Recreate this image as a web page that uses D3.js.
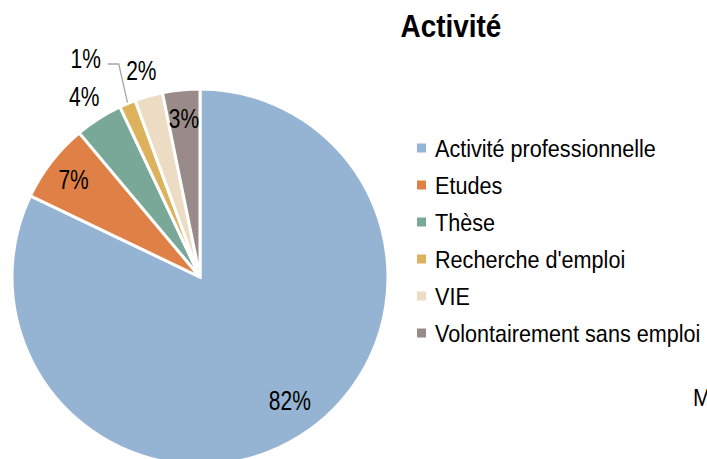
<!DOCTYPE html>
<html>
<head>
<meta charset="utf-8">
<script src="https://cdn.jsdelivr.net/npm/d3@7"></script>
<style>
  body { margin: 0; background: #fff; }
  svg { display: block; font-family: "Liberation Sans", Arial, sans-serif; }
</style>
</head>
<body>
<div id="chart"></div>
<script>
// data (share of respondents, %)
const categories = ["Activité professionnelle", "Etudes", "Thèse", "Recherche d'emploi", "VIE", "Volontairement sans emploi"];
const values = [82.1, 6.8, 4.1, 1.4, 2.4, 3.2];
const labels = ["82%", "7%", "4%", "1%", "2%", "3%"];
const colors = ["#95b3d3", "#df8047", "#7aa898", "#dcb35c", "#ebdcc3", "#998b89"];
// which labels sit outside the pie
const outside = [false, false, true, true, true, false];

const width = 707, height = 459;
const cx = 200, cy = 277, radius = 188;

const svg = d3.select("#chart")
  .append("svg")
  .attr("width", width)
  .attr("height", height);

const pie = d3.pie().sort(null).value(d => d);
const arcs = pie(values);

const arc = d3.arc().innerRadius(0).outerRadius(radius);
const inArc = d3.arc().innerRadius(160).outerRadius(160);
const outArc = d3.arc().innerRadius(215).outerRadius(215);
const edgeArc = d3.arc().innerRadius(radius).outerRadius(radius);

const chart = svg.append("g")
  .attr("transform", `translate(${cx},${cy})`);

chart.selectAll("path.slice")
  .data(arcs)
  .enter()
  .append("path")
  .attr("class", "slice")
  .attr("d", arc)
  .attr("fill", (d, i) => colors[i])
  .attr("stroke", "#fff")
  .attr("stroke-width", 3)
  .attr("stroke-linejoin", "miter");

function polar(a, r) {
  return [Math.sin(a) * r, -Math.cos(a) * r];
}

// label position: inside / outside; big slice label sits a bit off its middle,
// the tiny 1% one is pushed further out with a leader
function labelPos(d, i) {
  const mid = (d.startAngle + d.endAngle) / 2;
  if (i === 0) return polar(mid - 0.07, 152);
  if (i === 3) return polar(mid - 0.085, 247);
  return outside[i] ? outArc.centroid(d) : inArc.centroid(d);
}

// leader line for 1%
const small = arcs[3];
const p0 = edgeArc.centroid(small);
const lp = labelPos(small, 3);
chart.append("polyline")
  .attr("points", [[p0[0], p0[1] - 1], [lp[0] + 33, lp[1] + 6], [lp[0] + 22, lp[1] + 6]].map(p => p.join(",")).join(" "))
  .attr("fill", "none")
  .attr("stroke", "#a6a6a6")
  .attr("stroke-width", 1.3);

chart.selectAll("g.lab")
  .data(arcs)
  .enter()
  .append("g")
  .attr("class", "lab")
  .attr("transform", (d, i) => {
    const p = labelPos(d, i);
    return `translate(${p[0]},${p[1]}) scale(0.75,1)`;
  })
  .append("text")
  .attr("text-anchor", "middle")
  .attr("dy", "0.36em")
  .style("font-size", "28px")
  .style("fill", "#000")
  .text((d, i) => labels[i]);

// title
svg.append("g")
  .attr("transform", "translate(451,37) scale(0.9,1)")
  .append("text")
  .attr("text-anchor", "middle")
  .style("font-size", "31px")
  .style("font-weight", "bold")
  .text("Activité");

// legend
const legend = svg.selectAll(".legend")
  .data(categories)
  .enter().append("g")
  .attr("class", "legend")
  .attr("transform", (d, i) => `translate(417,${148 + i * 37})`);

legend.append("rect")
  .attr("x", 0)
  .attr("y", -4.5)
  .attr("width", 9)
  .attr("height", 9)
  .style("fill", (d, i) => colors[i]);

legend.append("g")
  .attr("transform", "translate(18,8.5) scale(0.9,1)")
  .append("text")
  .style("font-size", "24px")
  .text(d => d);

// cut-off note at the right edge, as in the original
svg.append("g")
  .attr("transform", "translate(693,406) scale(0.9,1)")
  .append("text")
  .style("font-size", "24px")
  .text("M");
</script>
</body>
</html>
